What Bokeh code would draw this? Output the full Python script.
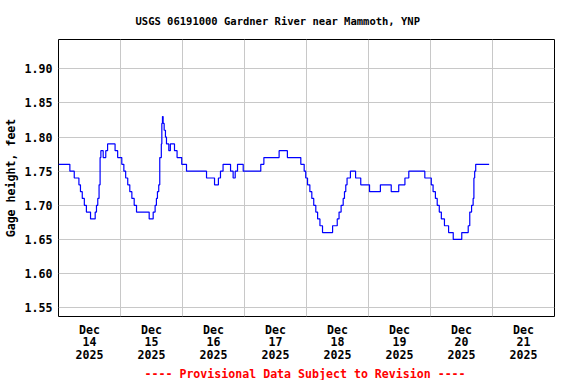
from bokeh.plotting import figure
from bokeh.models import FixedTicker, Range1d, Title, PrintfTickFormatter, ColumnDataSource
from bokeh.embed import file_html
from bokeh.resources import INLINE

# Gage height (ft), step series: hours since 2025-12-14 00:00 and value from that time on
hours = [0.0, 4.4, 6.1, 7.9, 8.5, 9.2, 10.0, 10.8, 12.4, 14.2, 14.7, 15.2, 15.7, 16.1, 16.4,
         17.3, 18.3, 19.0, 21.9, 22.9, 24.5, 25.3, 26.0, 26.8, 27.6, 28.4, 29.3, 30.2, 35.1,
         36.65, 37.4, 37.9, 38.3, 38.8, 39.2, 39.8, 40.0, 40.25, 40.5, 40.9, 41.4, 41.8, 42.7,
         43.3, 44.9, 45.9, 47.7, 49.55, 57.3, 60.4, 61.9, 62.7, 63.7, 66.6, 67.6, 68.4, 69.3,
         71.5, 78.3, 79.5, 85.4, 88.6, 93.8, 95.1, 95.7, 96.4, 97.3, 98.06, 98.8, 99.6, 100.3,
         101.2, 102.2, 106.1, 107.9, 108.6, 109.4, 110.2, 110.7, 111.2, 111.7, 113.0, 115.0,
         117.0, 120.4, 124.6, 128.8, 131.7, 134.1, 135.6, 141.8, 144.3, 145.0, 145.9, 146.6,
         147.4, 148.2, 149.4, 151.0, 152.8, 156.1, 158.6, 159.2, 159.9, 160.5, 160.8, 161.1,
         161.5, 166.7]
stage = [1.76, 1.75, 1.74, 1.73, 1.72, 1.71, 1.70, 1.69, 1.68, 1.69, 1.70, 1.71, 1.73, 1.77, 1.78,
         1.77, 1.78, 1.79, 1.78, 1.77, 1.76, 1.75, 1.74, 1.73, 1.72, 1.71, 1.70, 1.69, 1.68,
         1.69, 1.70, 1.71, 1.72, 1.73, 1.77, 1.79, 1.82, 1.83, 1.82, 1.81, 1.80, 1.79, 1.78,
         1.79, 1.78, 1.77, 1.76, 1.75, 1.74, 1.73, 1.74, 1.75, 1.76, 1.75, 1.74, 1.75, 1.76,
         1.75, 1.76, 1.77, 1.78, 1.77, 1.76, 1.75, 1.74, 1.73, 1.72, 1.71, 1.70, 1.69, 1.68,
         1.67, 1.66, 1.67, 1.68, 1.69, 1.70, 1.71, 1.72, 1.73, 1.74, 1.75, 1.74,
         1.73, 1.72, 1.73, 1.72, 1.73, 1.74, 1.75, 1.74, 1.73, 1.72, 1.71, 1.70,
         1.69, 1.68, 1.67, 1.66, 1.65, 1.66, 1.67, 1.69, 1.70, 1.71, 1.74, 1.75,
         1.76, 1.76]

day_starts = [0, 24, 48, 72, 96, 120, 144, 168, 192]
day_labels = ["Dec\n14\n2025", "Dec\n15\n2025", "Dec\n16\n2025", "Dec\n17\n2025",
              "Dec\n18\n2025", "Dec\n19\n2025", "Dec\n20\n2025", "Dec\n21\n2025"]
y_ticks = [1.55, 1.60, 1.65, 1.70, 1.75, 1.80, 1.85, 1.90]

FONT = "DejaVu Sans Mono"
FS = "11.6px"

p = figure(frame_width=496, frame_height=277, output_backend="svg", toolbar_location=None,
           x_range=Range1d(day_starts[0], day_starts[-1]), y_range=Range1d(1.537, 1.943),
           min_border_left=0, min_border_right=10, min_border_top=0, min_border_bottom=0)

p.title = Title(text="USGS 06191000 Gardner River near Mammoth, YNP", align="left", offset=77,
                text_font=FONT, text_font_size="10.5px", text_font_style="bold",
                text_color="black", standoff=25)
p.add_layout(Title(text="---- Provisional Data Subject to Revision ----", align="left", offset=86,
                   text_font=FONT, text_font_size=FS, text_font_style="bold",
                   text_color="red", standoff=0), "below")

src = ColumnDataSource(dict(h=hours, v=stage))
p.step("h", "v", source=src, mode="after", line_color="blue", line_width=1.2)

mid_ticks = [(a + b) / 2 for a, b in zip(day_starts[:-1], day_starts[1:])]
p.xaxis.ticker = FixedTicker(ticks=mid_ticks)
p.xaxis.major_label_overrides = {t: lab for t, lab in zip(mid_ticks, day_labels)}
p.xgrid.ticker = FixedTicker(ticks=day_starts[1:-1])
p.yaxis.ticker = FixedTicker(ticks=y_ticks)
p.ygrid.ticker = FixedTicker(ticks=y_ticks)
p.yaxis.formatter = PrintfTickFormatter(format="%.2f")
p.yaxis.axis_label = "Gage height, feet"

for ax in (p.xaxis[0], p.yaxis[0]):
    ax.axis_line_color = None
    ax.major_tick_line_color = None
    ax.minor_tick_line_color = None
    ax.major_tick_in = 0
    ax.major_tick_out = 0
    ax.minor_tick_in = 0
    ax.minor_tick_out = 0
    ax.major_label_text_font = FONT
    ax.major_label_text_font_size = FS
    ax.major_label_text_font_style = "bold"
    ax.major_label_text_color = "black"
    ax.axis_label_text_font = FONT
    ax.axis_label_text_font_size = FS
    ax.axis_label_text_font_style = "bold"
    ax.axis_label_text_color = "black"
p.xaxis.major_label_standoff = 6
p.xaxis.major_label_text_line_height = 0.9
p.yaxis.major_label_standoff = 6
p.yaxis.axis_label_standoff = 4

for g in (p.xgrid[0], p.ygrid[0]):
    g.grid_line_color = "#c8c8c8"
    g.grid_line_width = 1

p.outline_line_color = "black"
p.outline_line_width = 1
p.outline_line_alpha = 1
p.background_fill_color = "white"
p.border_fill_color = "white"

open("out.html", "w").write(file_html(p, INLINE))
